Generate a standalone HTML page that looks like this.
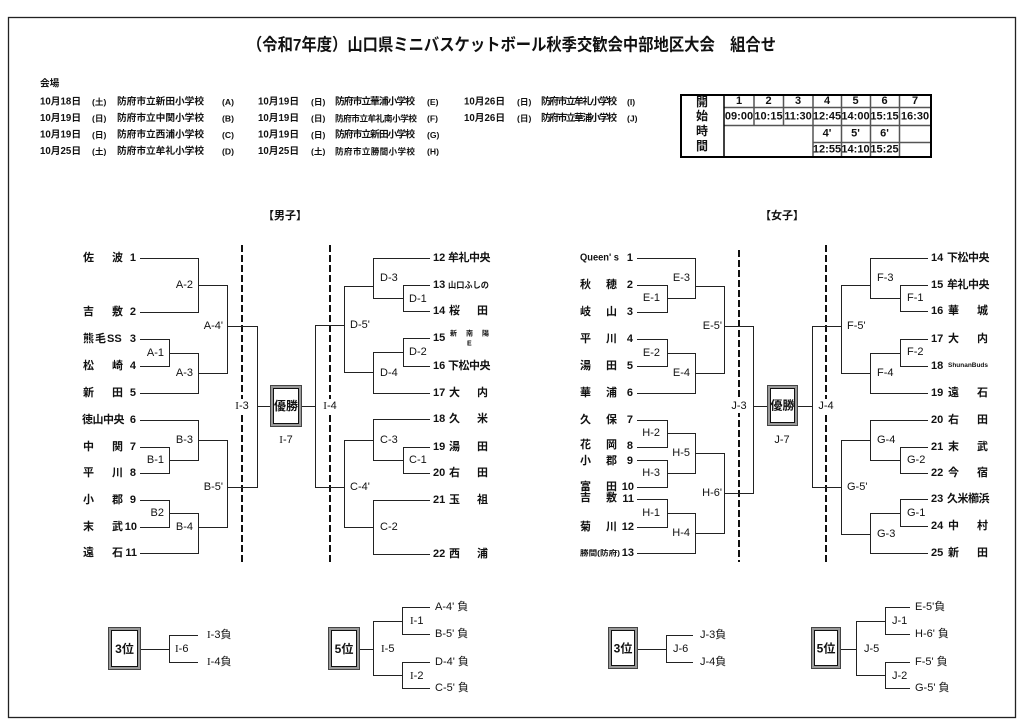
<!DOCTYPE html>
<html><head><meta charset="utf-8">
<style>
html,body{margin:0;padding:0;background:#fff;}
svg{display:block;}
text{font-family:"Liberation Sans","Noto Sans CJK JP",sans-serif;dominant-baseline:central;fill:#111;}
.lb{font-size:11px;}
.nm{font-size:11px;font-weight:bold;}
.nu{font-size:11px;font-weight:bold;}
.v{font-size:9.7px;font-weight:bold;}
.vs{font-size:8.6px;font-weight:bold;}
.tb{font-size:11px;font-weight:bold;}
.bx{font-size:12px;font-weight:bold;}
.I{font-family:"Liberation Serif",serif;}
</style></head>
<body>
<svg width="1024" height="726" viewBox="0 0 1024 726" xmlns="http://www.w3.org/2000/svg">
<rect x="0" y="0" width="1024" height="726" fill="#fff"/>
<rect x="8.5" y="17.5" width="1007" height="700" fill="none" stroke="#222" stroke-width="1.3"/>

<!-- Title -->
<text x="247" y="45" font-size="17" font-weight="bold" textLength="529" lengthAdjust="spacingAndGlyphs">（令和7年度）山口県ミニバスケットボール秋季交歓会中部地区大会　組合せ</text>

<!-- Venues -->
<text class="v" x="40" y="84">会場</text>
<g class="v">
<text class="v" x="40" y="102" textLength="41">10月18日</text><text class="vs" x="92" y="102">(土)</text><text class="v" x="117" y="102" textLength="87">防府市立新田小学校</text><text class="vs" x="222" y="102">(A)</text>
<text class="v" x="258" y="102" textLength="41">10月19日</text><text class="vs" x="311" y="102">(日)</text><text class="v" x="335" y="102" textLength="80">防府市立華浦小学校</text><text class="vs" x="427" y="102">(E)</text>
<text class="v" x="464" y="102" textLength="41">10月26日</text><text class="vs" x="517" y="102">(日)</text><text class="v" x="541" y="102" textLength="76">防府市立牟礼小学校</text><text class="vs" x="627" y="102">(I)</text>

<text class="v" x="40" y="118.5" textLength="41">10月19日</text><text class="vs" x="92" y="118.5">(日)</text><text class="v" x="117" y="118.5" textLength="87">防府市立中関小学校</text><text class="vs" x="222" y="118.5">(B)</text>
<text class="v" x="258" y="118.5" textLength="41">10月19日</text><text class="vs" x="311" y="118.5">(日)</text><text class="vs" x="335" y="118.5" textLength="82">防府市立牟礼南小学校</text><text class="vs" x="427" y="118.5">(F)</text>
<text class="v" x="464" y="118.5" textLength="41">10月26日</text><text class="vs" x="517" y="118.5">(日)</text><text class="v" x="541" y="118.5" textLength="76">防府市立華浦小学校</text><text class="vs" x="627" y="118.5">(J)</text>

<text class="v" x="40" y="135" textLength="41">10月19日</text><text class="vs" x="92" y="135">(日)</text><text class="v" x="117" y="135" textLength="87">防府市立西浦小学校</text><text class="vs" x="222" y="135">(C)</text>
<text class="v" x="258" y="135" textLength="41">10月19日</text><text class="vs" x="311" y="135">(日)</text><text class="v" x="335" y="135" textLength="80">防府市立新田小学校</text><text class="vs" x="427" y="135">(G)</text>

<text class="v" x="40" y="151.5" textLength="41">10月25日</text><text class="vs" x="92" y="151.5">(土)</text><text class="v" x="117" y="151.5" textLength="87">防府市立牟礼小学校</text><text class="vs" x="222" y="151.5">(D)</text>
<text class="v" x="258" y="151.5" textLength="41">10月25日</text><text class="vs" x="311" y="151.5">(土)</text><text class="vs" x="335" y="151.5" textLength="80">防府市立勝間小学校</text><text class="vs" x="427" y="151.5">(H)</text>
</g>

<!-- Time table -->
<g fill="none" stroke="#555" stroke-width="1.5">
<path d="M724 107.5 H931 M724 125.5 H931 M813 142.5 H931 M754 95 V125 M783.5 95 V125 M841.5 95 V157 M870.5 95 V157 M899.5 95 V157 M813 95 V157"/>
</g>
<rect x="681" y="95" width="250" height="62" fill="none" stroke="#000" stroke-width="2"/>
<line x1="724" y1="95" x2="724" y2="157" stroke="#000" stroke-width="1.5"/>
<g class="tb" text-anchor="middle">
<text x="702" y="102" text-anchor="middle" font-size="12" font-weight="bold">開</text>
<text x="702" y="116" text-anchor="middle" font-size="12" font-weight="bold">始</text>
<text x="702" y="131" text-anchor="middle" font-size="12" font-weight="bold">時</text>
<text x="702" y="146" text-anchor="middle" font-size="12" font-weight="bold">間</text>
<text class="tb" x="739" y="101" text-anchor="middle">1</text>
<text class="tb" x="768.5" y="101" text-anchor="middle">2</text>
<text class="tb" x="798" y="101" text-anchor="middle">3</text>
<text class="tb" x="827" y="101" text-anchor="middle">4</text>
<text class="tb" x="855.5" y="101" text-anchor="middle">5</text>
<text class="tb" x="884.5" y="101" text-anchor="middle">6</text>
<text class="tb" x="915" y="101" text-anchor="middle">7</text>
<text class="tb" x="739" y="116.5" text-anchor="middle">09:00</text>
<text class="tb" x="768.5" y="116.5" text-anchor="middle">10:15</text>
<text class="tb" x="798" y="116.5" text-anchor="middle">11:30</text>
<text class="tb" x="827" y="116.5" text-anchor="middle">12:45</text>
<text class="tb" x="855.5" y="116.5" text-anchor="middle">14:00</text>
<text class="tb" x="884.5" y="116.5" text-anchor="middle">15:15</text>
<text class="tb" x="915" y="116.5" text-anchor="middle">16:30</text>
<text class="tb" x="827" y="133.5" text-anchor="middle">4'</text>
<text class="tb" x="855.5" y="133.5" text-anchor="middle">5'</text>
<text class="tb" x="884.5" y="133.5" text-anchor="middle">6'</text>
<text class="tb" x="827" y="149.5" text-anchor="middle">12:55</text>
<text class="tb" x="855.5" y="149.5" text-anchor="middle">14:10</text>
<text class="tb" x="884.5" y="149.5" text-anchor="middle">15:25</text>
</g>

<!-- Section headers -->
<text class="nm" x="285" y="216" text-anchor="middle">【男子】</text>
<text class="nm" x="782" y="216" text-anchor="middle">【女子】</text>

<!-- Dashed lines -->
<g stroke="#111" stroke-width="2" stroke-dasharray="7 3" fill="none">
<line x1="242" y1="245" x2="242" y2="564"/>
<line x1="330" y1="245" x2="330" y2="562"/>
<line x1="739" y1="250" x2="739" y2="562"/>
<line x1="826" y1="245" x2="826" y2="565"/>
</g>

<!-- Bracket lines -->
<g fill="none" stroke="#222" stroke-width="1" shape-rendering="crispEdges">
<path d="M140 258.5 H198.5 M140 312.5 H198.5 M198.5 258 V313 M198.5 285.5 H227.5
M140 339.5 H169.5 M140 366.5 H169.5 M169.5 339 V367 M169.5 353.5 H198.5
M140 393.5 H198.5 M198.5 353 V394 M198.5 373.5 H227.5
M227.5 285 V374 M227.5 326.5 H257.5
M140 420.5 H198.5 M140 447.5 H169.5 M140 473.5 H169.5 M169.5 447 V474 M169.5 460.5 H198.5 M198.5 420 V461 M198.5 440.5 H227.5
M140 500.5 H169.5 M140 527.5 H169.5 M169.5 500 V528 M169.5 513.5 H198.5 M140 553.5 H198.5 M198.5 513 V554 M198.5 527.5 H227.5
M227.5 440 V528 M227.5 487.5 H257.5
M257.5 326 V488 M257.5 406.5 H270"/>
<path d="M373.5 258.5 H430 M403.5 285.5 H430 M403.5 311.5 H430 M403.5 285 V312 M373.5 298.5 H403.5 M373.5 258 V299 M344.5 286.5 H373.5
M403.5 338.5 H430 M403.5 366.5 H430 M403.5 338 V367 M373.5 352.5 H403.5 M373.5 393.5 H430 M373.5 352 V394 M344.5 372.5 H373.5
M344.5 286 V373 M315.5 325.5 H344.5
M373.5 419.5 H430 M403.5 447.5 H430 M403.5 473.5 H430 M403.5 447 V474 M373.5 460.5 H403.5 M373.5 419 V461 M344.5 440.5 H373.5
M373.5 500.5 H430 M373.5 554.5 H430 M373.5 500 V555 M344.5 527.5 H373.5
M344.5 440 V528 M315.5 487.5 H344.5
M315.5 325 V488 M302 406.5 H315.5"/>
<path d="M637 258.5 H695.5 M637 285.5 H667.5 M637 312.5 H667.5 M667.5 285 V313 M667.5 298.5 H695.5 M695.5 258 V299 M695.5 286.5 H724.5
M637 339.5 H667.5 M637 366.5 H667.5 M667.5 339 V367 M667.5 353.5 H695.5 M637 393.5 H695.5 M695.5 353 V394 M695.5 373.5 H724.5
M724.5 286 V374 M724.5 326.5 H753.5
M637 420.5 H667.5 M637 447.5 H667.5 M667.5 420 V448 M667.5 433.5 H695.5
M637 460.5 H667.5 M637 487.5 H667.5 M667.5 460 V488 M667.5 473.5 H695.5
M695.5 433 V474 M695.5 453.5 H724.5
M637 499.5 H667.5 M637 527.5 H667.5 M667.5 499 V528 M667.5 513.5 H695.5 M637 553.5 H695.5 M695.5 513 V554 M695.5 533.5 H724.5
M724.5 453 V534 M724.5 493.5 H753.5
M753.5 326 V494 M753.5 406.5 H767"/>
<path d="M798 406.5 H812.5 M812.5 326 V488 M812.5 326.5 H841.5 M812.5 487.5 H841.5
M841.5 285 V374 M841.5 285.5 H870.5 M870.5 258 V299 M870.5 258.5 H928 M870.5 298.5 H900.5 M900.5 285 V312 M900.5 285.5 H928 M900.5 311.5 H928
M900.5 339 V367 M900.5 339.5 H928 M900.5 366.5 H928 M870.5 353.5 H900.5 M870.5 353 V394 M870.5 393.5 H928 M841.5 373.5 H870.5
M841.5 440 V535 M841.5 440.5 H870.5 M870.5 420 V461 M870.5 420.5 H928 M870.5 460.5 H900.5 M900.5 447 V474 M900.5 447.5 H928 M900.5 473.5 H928
M870.5 513.5 H900.5 M900.5 499 V527 M900.5 499.5 H928 M900.5 526.5 H928 M870.5 513 V554 M870.5 553.5 H928 M841.5 534.5 H870.5"/>
<path d="M141 649.5 H169.5 M169.5 635 V663 M169.5 635.5 H198 M169.5 662.5 H198
M360 649.5 H373.5 M373.5 621 V676 M373.5 621.5 H402.5 M373.5 675.5 H402.5 M402.5 607 V635 M402.5 607.5 H430 M402.5 634.5 H430 M402.5 662 V689 M402.5 662.5 H430 M402.5 688.5 H430
M638 649.5 H666.5 M666.5 635 V663 M666.5 635.5 H693 M666.5 662.5 H693
M841 649.5 H856.5 M856.5 621 V676 M856.5 621.5 H885.5 M856.5 675.5 H885.5 M885.5 607 V635 M885.5 607.5 H910 M885.5 634.5 H910 M885.5 662 V689 M885.5 662.5 H910 M885.5 688.5 H910"/>
</g>

<!-- Framed boxes -->
<g fill="none">
<g>
<rect x="270.5" y="385.5" width="31" height="41" stroke="#444" stroke-width="1"/>
<rect x="272" y="387" width="28" height="38" stroke="#999" stroke-width="2"/>
<rect x="273.5" y="388.5" width="25" height="35" stroke="#111" stroke-width="1"/>
</g>
<g>
<rect x="767.5" y="385.5" width="30" height="40" stroke="#444" stroke-width="1"/>
<rect x="769" y="387" width="27" height="37" stroke="#999" stroke-width="2"/>
<rect x="770.5" y="388.5" width="24" height="34" stroke="#111" stroke-width="1"/>
</g>
<g>
<rect x="108.5" y="627.5" width="32" height="42" stroke="#444" stroke-width="1"/>
<rect x="110" y="629" width="29" height="39" stroke="#999" stroke-width="2"/>
<rect x="111.5" y="630.5" width="26" height="36" stroke="#111" stroke-width="1"/>
</g>
<g>
<rect x="328.5" y="627.5" width="31" height="42" stroke="#444" stroke-width="1"/>
<rect x="330" y="629" width="28" height="39" stroke="#999" stroke-width="2"/>
<rect x="331.5" y="630.5" width="25" height="36" stroke="#111" stroke-width="1"/>
</g>
<g>
<rect x="608.5" y="627.5" width="29" height="41" stroke="#444" stroke-width="1"/>
<rect x="610" y="629" width="26" height="38" stroke="#999" stroke-width="2"/>
<rect x="611.5" y="630.5" width="23" height="35" stroke="#111" stroke-width="1"/>
</g>
<g>
<rect x="811.5" y="627.5" width="29" height="41" stroke="#444" stroke-width="1"/>
<rect x="813" y="629" width="26" height="38" stroke="#999" stroke-width="2"/>
<rect x="814.5" y="630.5" width="23" height="35" stroke="#111" stroke-width="1"/>
</g>
</g>
<text class="bx" x="286" y="406" text-anchor="middle">優勝</text>
<text class="bx" x="782.5" y="405.5" text-anchor="middle">優勝</text>
<text class="bx" x="124.5" y="649" text-anchor="middle">3位</text>
<text class="bx" x="344" y="649" text-anchor="middle">5位</text>
<text class="bx" x="623" y="648.5" text-anchor="middle">3位</text>
<text class="bx" x="826" y="648.5" text-anchor="middle">5位</text>

<!-- Boys left names -->
<g class="nm">
<text class="nm" x="83 112" y="258">佐波</text>
<text class="nm" x="83 112" y="312">吉敷</text>
<text class="nm" x="83 95 107" y="339">熊毛SS</text>
<text class="nm" x="83 112" y="366">松崎</text>
<text class="nm" x="83 112" y="393">新田</text>
<text class="nm" x="82 92.5 103 113.5" y="420">徳山中央</text>
<text class="nm" x="83 112" y="447">中関</text>
<text class="nm" x="83 112" y="473">平川</text>
<text class="nm" x="83 112" y="500">小郡</text>
<text class="nm" x="83 112" y="527">末武</text>
<text class="nm" x="83 112" y="553">遠石</text>
</g>
<g text-anchor="end">
<text class="nu" x="136" y="258" text-anchor="end">1</text>
<text class="nu" x="136" y="312" text-anchor="end">2</text>
<text class="nu" x="136" y="339" text-anchor="end">3</text>
<text class="nu" x="136" y="366" text-anchor="end">4</text>
<text class="nu" x="136" y="393" text-anchor="end">5</text>
<text class="nu" x="136" y="420" text-anchor="end">6</text>
<text class="nu" x="136" y="447" text-anchor="end">7</text>
<text class="nu" x="136" y="473" text-anchor="end">8</text>
<text class="nu" x="136" y="500" text-anchor="end">9</text>
<text class="nu" x="137" y="527" text-anchor="end">10</text>
<text class="nu" x="137" y="553" text-anchor="end">11</text>
</g>

<!-- Boys right names -->
<text class="nu" x="433" y="258">12</text><text class="nm" x="448 458.5 469 479.5" y="258">牟礼中央</text>
<text class="nu" x="433" y="285">13</text><text x="448" y="285" font-size="8.5" font-weight="bold" textLength="41" lengthAdjust="spacingAndGlyphs">山口ふしの</text>
<text class="nu" x="433" y="311">14</text><text class="nm" x="449 477" y="311">桜田</text>
<text class="nu" x="433" y="338">15</text><text x="450 466 482" y="334" font-size="7" font-weight="bold">新南陽</text><text x="467" y="344" font-size="7" font-weight="bold">E</text>
<text class="nu" x="433" y="366">16</text><text class="nm" x="448 458.5 469 479.5" y="366">下松中央</text>
<text class="nu" x="433" y="393">17</text><text class="nm" x="449 477" y="393">大内</text>
<text class="nu" x="433" y="419">18</text><text class="nm" x="449 477" y="419">久米</text>
<text class="nu" x="433" y="447">19</text><text class="nm" x="449 477" y="447">湯田</text>
<text class="nu" x="433" y="473">20</text><text class="nm" x="449 477" y="473">右田</text>
<text class="nu" x="433" y="500">21</text><text class="nm" x="449 477" y="500">玉祖</text>
<text class="nu" x="433" y="554">22</text><text class="nm" x="449 477" y="554">西浦</text>

<!-- Girls left names -->
<text x="580" y="258" font-size="10" font-weight="bold" textLength="39" lengthAdjust="spacingAndGlyphs">Queen' s</text>
<text class="nm" x="580 606" y="285">秋穂</text>
<text class="nm" x="580 606" y="312">岐山</text>
<text class="nm" x="580 606" y="339">平川</text>
<text class="nm" x="580 606" y="366">湯田</text>
<text class="nm" x="580 606" y="393">華浦</text>
<text class="nm" x="580 606" y="420">久保</text>
<text class="nm" x="580 606" y="445">花岡</text>
<text class="nm" x="580 606" y="461">小郡</text>
<text class="nm" x="580 606" y="487">富田</text>
<text class="nm" x="580 606" y="498">吉敷</text>
<text class="nm" x="580 606" y="527">菊川</text>
<text x="580" y="553" font-size="7.5" font-weight="bold" textLength="40" lengthAdjust="spacingAndGlyphs">勝間(防府)</text>
<text class="nu" x="633" y="258" text-anchor="end">1</text>
<text class="nu" x="633" y="285" text-anchor="end">2</text>
<text class="nu" x="633" y="312" text-anchor="end">3</text>
<text class="nu" x="633" y="339" text-anchor="end">4</text>
<text class="nu" x="633" y="366" text-anchor="end">5</text>
<text class="nu" x="633" y="393" text-anchor="end">6</text>
<text class="nu" x="633" y="420" text-anchor="end">7</text>
<text class="nu" x="633" y="446" text-anchor="end">8</text>
<text class="nu" x="633" y="461" text-anchor="end">9</text>
<text class="nu" x="634" y="487" text-anchor="end">10</text>
<text class="nu" x="634" y="499" text-anchor="end">11</text>
<text class="nu" x="634" y="527" text-anchor="end">12</text>
<text class="nu" x="634" y="553" text-anchor="end">13</text>

<!-- Girls right names -->
<text class="nu" x="931" y="258">14</text><text class="nm" x="947 957.5 968 978.5" y="258">下松中央</text>
<text class="nu" x="931" y="285">15</text><text class="nm" x="947 957.5 968 978.5" y="285">牟礼中央</text>
<text class="nu" x="931" y="311">16</text><text class="nm" x="948 977" y="311">華城</text>
<text class="nu" x="931" y="339">17</text><text class="nm" x="948 977" y="339">大内</text>
<text class="nu" x="931" y="366">18</text><text x="948" y="366" font-size="6" font-weight="bold" textLength="40" lengthAdjust="spacingAndGlyphs">ShunanBuds</text>
<text class="nu" x="931" y="393">19</text><text class="nm" x="948 977" y="393">遠石</text>
<text class="nu" x="931" y="420">20</text><text class="nm" x="948 977" y="420">右田</text>
<text class="nu" x="931" y="447">21</text><text class="nm" x="948 977" y="447">末武</text>
<text class="nu" x="931" y="473">22</text><text class="nm" x="948 977" y="473">今宿</text>
<text class="nu" x="931" y="499">23</text><text class="nm" x="947 957.5 968 978.5" y="499">久米櫛浜</text>
<text class="nu" x="931" y="526">24</text><text class="nm" x="948 977" y="526">中村</text>
<text class="nu" x="931" y="553">25</text><text class="nm" x="948 977" y="553">新田</text>

<!-- Match labels boys left -->
<text class="lb" x="193" y="285" text-anchor="end">A-2</text>
<text class="lb" x="164" y="353" text-anchor="end">A-1</text>
<text class="lb" x="193" y="373" text-anchor="end">A-3</text>
<text class="lb" x="223" y="326" text-anchor="end">A-4'</text>
<text class="lb" x="164" y="460" text-anchor="end">B-1</text>
<text class="lb" x="193" y="440" text-anchor="end">B-3</text>
<text class="lb" x="164" y="513" text-anchor="end">B2</text>
<text class="lb" x="193" y="527" text-anchor="end">B-4</text>
<text class="lb" x="223" y="487" text-anchor="end">B-5'</text>
<rect x="235" y="399" width="14" height="14" fill="#fff"/>
<text class="lb" x="242" y="406" text-anchor="middle"><tspan class="I">I</tspan>-3</text>
<text class="lb" x="286" y="440" text-anchor="middle"><tspan class="I">I</tspan>-7</text>
<rect x="323" y="399" width="15" height="14" fill="#fff"/>
<text class="lb" x="330" y="406" text-anchor="middle"><tspan class="I">I</tspan>-4</text>

<!-- boys right labels -->
<text class="lb" x="380" y="278">D-3</text>
<text class="lb" x="409" y="299">D-1</text>
<text class="lb" x="409" y="352">D-2</text>
<text class="lb" x="380" y="373">D-4</text>
<text class="lb" x="350" y="325">D-5'</text>
<text class="lb" x="380" y="440">C-3</text>
<text class="lb" x="409" y="460">C-1</text>
<text class="lb" x="380" y="527">C-2</text>
<text class="lb" x="350" y="487">C-4'</text>

<!-- girls left labels -->
<text class="lb" x="690" y="278" text-anchor="end">E-3</text>
<text class="lb" x="660" y="298" text-anchor="end">E-1</text>
<text class="lb" x="660" y="353" text-anchor="end">E-2</text>
<text class="lb" x="690" y="373" text-anchor="end">E-4</text>
<text class="lb" x="722" y="326" text-anchor="end">E-5'</text>
<text class="lb" x="660" y="433" text-anchor="end">H-2</text>
<text class="lb" x="660" y="473" text-anchor="end">H-3</text>
<text class="lb" x="690" y="453" text-anchor="end">H-5</text>
<text class="lb" x="660" y="513" text-anchor="end">H-1</text>
<text class="lb" x="690" y="533" text-anchor="end">H-4</text>
<text class="lb" x="722" y="493" text-anchor="end">H-6'</text>
<rect x="731" y="399" width="16" height="14" fill="#fff"/>
<text class="lb" x="739" y="406" text-anchor="middle">J-3</text>
<text class="lb" x="782" y="440" text-anchor="middle">J-7</text>
<rect x="818" y="399" width="16" height="14" fill="#fff"/>
<text class="lb" x="826" y="406" text-anchor="middle">J-4</text>

<!-- girls right labels -->
<text class="lb" x="877" y="278">F-3</text>
<text class="lb" x="907" y="298">F-1</text>
<text class="lb" x="907" y="352">F-2</text>
<text class="lb" x="877" y="373">F-4</text>
<text class="lb" x="847" y="326">F-5'</text>
<text class="lb" x="877" y="440">G-4</text>
<text class="lb" x="907" y="460">G-2</text>
<text class="lb" x="907" y="513">G-1</text>
<text class="lb" x="877" y="534">G-3</text>
<text class="lb" x="847" y="487">G-5'</text>

<!-- bottom labels boys -->
<text class="lb" x="175" y="649"><tspan class="I">I</tspan>-6</text>
<text class="lb" x="207" y="635"><tspan class="I">I</tspan>-3負</text>
<text class="lb" x="207" y="662"><tspan class="I">I</tspan>-4負</text>
<text class="lb" x="381" y="649"><tspan class="I">I</tspan>-5</text>
<text class="lb" x="410" y="621"><tspan class="I">I</tspan>-1</text>
<text class="lb" x="410" y="676"><tspan class="I">I</tspan>-2</text>
<text class="lb" x="435" y="607">A-4' 負</text>
<text class="lb" x="435" y="634">B-5' 負</text>
<text class="lb" x="435" y="662">D-4' 負</text>
<text class="lb" x="435" y="688">C-5' 負</text>

<!-- bottom labels girls -->
<text class="lb" x="673" y="649">J-6</text>
<text class="lb" x="700" y="635">J-3負</text>
<text class="lb" x="700" y="662">J-4負</text>
<text class="lb" x="864" y="649">J-5</text>
<text class="lb" x="892" y="621">J-1</text>
<text class="lb" x="892" y="676">J-2</text>
<text class="lb" x="915" y="607">E-5'負</text>
<text class="lb" x="915" y="634">H-6' 負</text>
<text class="lb" x="915" y="662">F-5' 負</text>
<text class="lb" x="915" y="688">G-5' 負</text>
</svg>
</body></html>
